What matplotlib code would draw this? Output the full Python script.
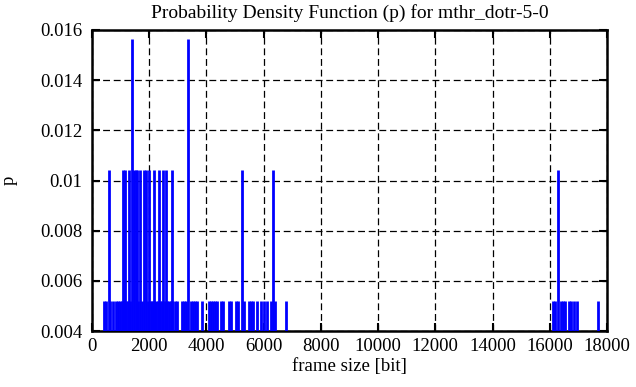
import numpy as np
import matplotlib.pyplot as plt
from matplotlib.ticker import FormatStrFormatter

# frame sizes [bit] seen once, twice and three times (out of n_frames)
n_frames = 192
sizes_once = [419, 489, 629, 751, 839, 909, 979, 1049, 1118, 1188, 1258, 1328,
              1608, 1748, 1957, 2045, 2114, 2184, 2254, 2324, 2394, 2464, 2534,
              2604, 2674, 2744, 2813, 2918, 2988, 3146, 3215, 3285, 3460, 3530,
              3600, 3687, 3845, 4072, 4142, 4229, 4299, 4369, 4526, 4596, 4771,
              4841, 5033, 5103, 5312, 5487, 5557, 5627, 5767, 5907, 6029, 6116,
              6256, 6396, 6781,
              16129, 16199, 16392, 16462, 16532, 16671, 16741, 16864, 16934, 17700]
sizes_twice = [594, 1083, 1153, 1293, 1468, 1538, 1590, 1678, 1817, 1887, 1975,
               2167, 2342, 2481, 2569, 2796, 5243, 6326, 16287]
sizes_thrice = [1398, 3355]

xticks = [0, 2000, 4000, 6000, 8000, 10000, 12000, 14000, 16000, 18000]
yticks = [0.004, 0.006, 0.008, 0.010, 0.012, 0.014, 0.016]


def main():
    plt.rcParams['font.family'] = ['Liberation Serif', 'DejaVu Serif']
    plt.rcParams['font.size'] = 13.5

    fig = plt.figure(figsize=(6.36, 3.87), dpi=100)
    ax = fig.add_axes([92/636, 56/387, 515/636, 301/387])

    for sizes, cnt in [(sizes_once, 1), (sizes_twice, 2), (sizes_thrice, 3)]:
        ax.vlines(sizes, 0, cnt / n_frames, color='#0000ff', lw=2.0, zorder=3)

    ax.set_xlim(0, 18000)
    ax.set_ylim(0.004, 0.016)
    ax.set_xticks(xticks)
    ax.set_yticks(yticks)
    ax.yaxis.set_major_formatter(FormatStrFormatter('%g'))
    ax.tick_params(direction='in', length=6, width=1.5, top=True, right=True)
    ax.tick_params(axis='x', pad=5)
    ax.tick_params(axis='y', pad=7)
    for s in ax.spines.values():
        s.set_linewidth(1.8)
    ax.grid(True, color='black', lw=0.9, ls=(0, (5.5, 3)))
    ax.set_axisbelow(True)

    ax.set_title('Probability Density Function (p) for mthr_dotr-5-0',
                 fontsize=14, pad=9)
    ax.set_xlabel('frame size [bit]', labelpad=2)
    ax.set_ylabel('p', labelpad=16)

    fig.savefig('out.png', dpi=100)


if __name__ == '__main__':
    main()
